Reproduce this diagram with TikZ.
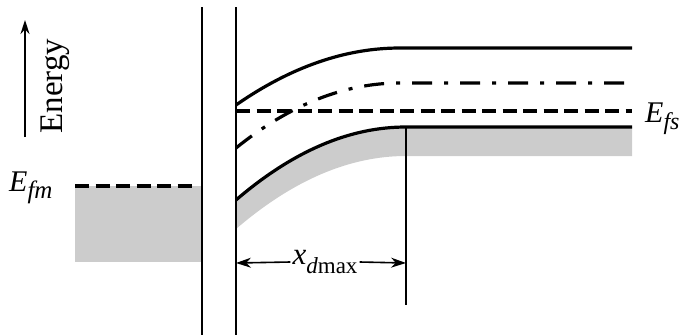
\documentclass[tikz,border=0pt]{standalone}
\usepackage{fontspec}
\setmainfont{Liberation Serif}
\usetikzlibrary{arrows.meta}
\begin{document}
\begin{tikzpicture}[x=1pt,y=-1pt,
  band/.style={line width=3.2pt},
  wall/.style={line width=2pt},
  fermi/.style={line width=3.2pt, dash pattern=on 14pt off 6.5pt},
  intr/.style={line width=3.2pt, dash pattern=on 20pt off 12pt on 4pt off 12pt},
  lbl/.style={font=\fontsize{30}{32}\selectfont, inner sep=0pt},
  shade/.style={fill=black!20},
  dim/.style={line width=1.6pt, -{Stealth[length=15pt,width=10pt]}}]
\useasboundingbox (0,0) rectangle (686,335);
% coordinates
\coordinate (wlT) at (202,7);   \coordinate (wlB) at (202,335);
\coordinate (wrT) at (236,7);   \coordinate (wrB) at (236,335);
\coordinate (cb0) at (236,105); \coordinate (cb1) at (400,48);  \coordinate (cb2) at (632,48);
\coordinate (ei0) at (236,148); \coordinate (ei1) at (400,83);  \coordinate (ei2) at (632,83);
\coordinate (ef0) at (236,111); \coordinate (ef2) at (632,111);
\coordinate (vb0) at (236,200); \coordinate (vb1) at (406,127); \coordinate (vb2) at (632,127);
\coordinate (gb0) at (236,229); \coordinate (gb1) at (406,156); \coordinate (gb2) at (632,156);
\coordinate (xdT) at (406,127); \coordinate (xdB) at (406,305);
\coordinate (aL) at (236,263);  \coordinate (aR) at (406,263);
\coordinate (enB) at (25,137);  \coordinate (enT) at (25,20);
\coordinate (mfL) at (75,186);  \coordinate (mfR) at (195,186);
% metal filled states
\fill[shade] (75,186) rectangle (202,262);
\draw[fermi] (mfL) -- (mfR);
% semiconductor valence band filling
\fill[shade] (vb0) .. controls (292.7,151.3) and (349.3,127) .. (vb1) -- (vb2) -- (gb2) -- (gb1)
  .. controls (349.3,156) and (292.7,180.3) .. (gb0) -- cycle;
% walls
\draw[wall] (wlT) -- (wlB);
\draw[wall] (wrT) -- (wrB);
% bands
\draw[band] (cb0) .. controls (290.7,67) and (345.3,48) .. (cb1) -- (cb2);
\draw[intr] (ei0) .. controls (290.7,104) and (345.3,83) .. (ei1) -- (ei2);
\draw[fermi] (ef0) -- (ef2);
\draw[band] (vb0) .. controls (292.7,151.3) and (349.3,127) .. (vb1) -- (vb2);
% depletion width
\draw[wall] (xdT) -- (xdB);
\node[lbl, font=\fontsize{31}{33}\selectfont] (xd) at (325,262) {\textit{x}\raisebox{-0.3em}{\fontsize{23}{25}\selectfont\textit{d}max}};
\draw[dim] (xd.west) ++(-2,0) -- (aL);
\draw[dim] (xd.east) ++(2,0) -- (aR);
% energy axis
\draw[line width=1.6pt, -{Stealth[length=14pt,width=9pt]}] (enB) -- (enT);
\node[lbl, rotate=90, anchor=base, font=\fontsize{33}{35}\selectfont] (en) at (62,86) {Energy};
% labels
\node[lbl, anchor=base west] (efm) at (9,191) {\textit{E}\raisebox{-0.25em}{\fontsize{25}{27}\selectfont\textit{fm}}};
\node[lbl, anchor=base west] (efs) at (645,122) {\textit{E}\raisebox{-0.25em}{\fontsize{24}{26}\selectfont\textit{fs}}};
\end{tikzpicture}
\end{document}
